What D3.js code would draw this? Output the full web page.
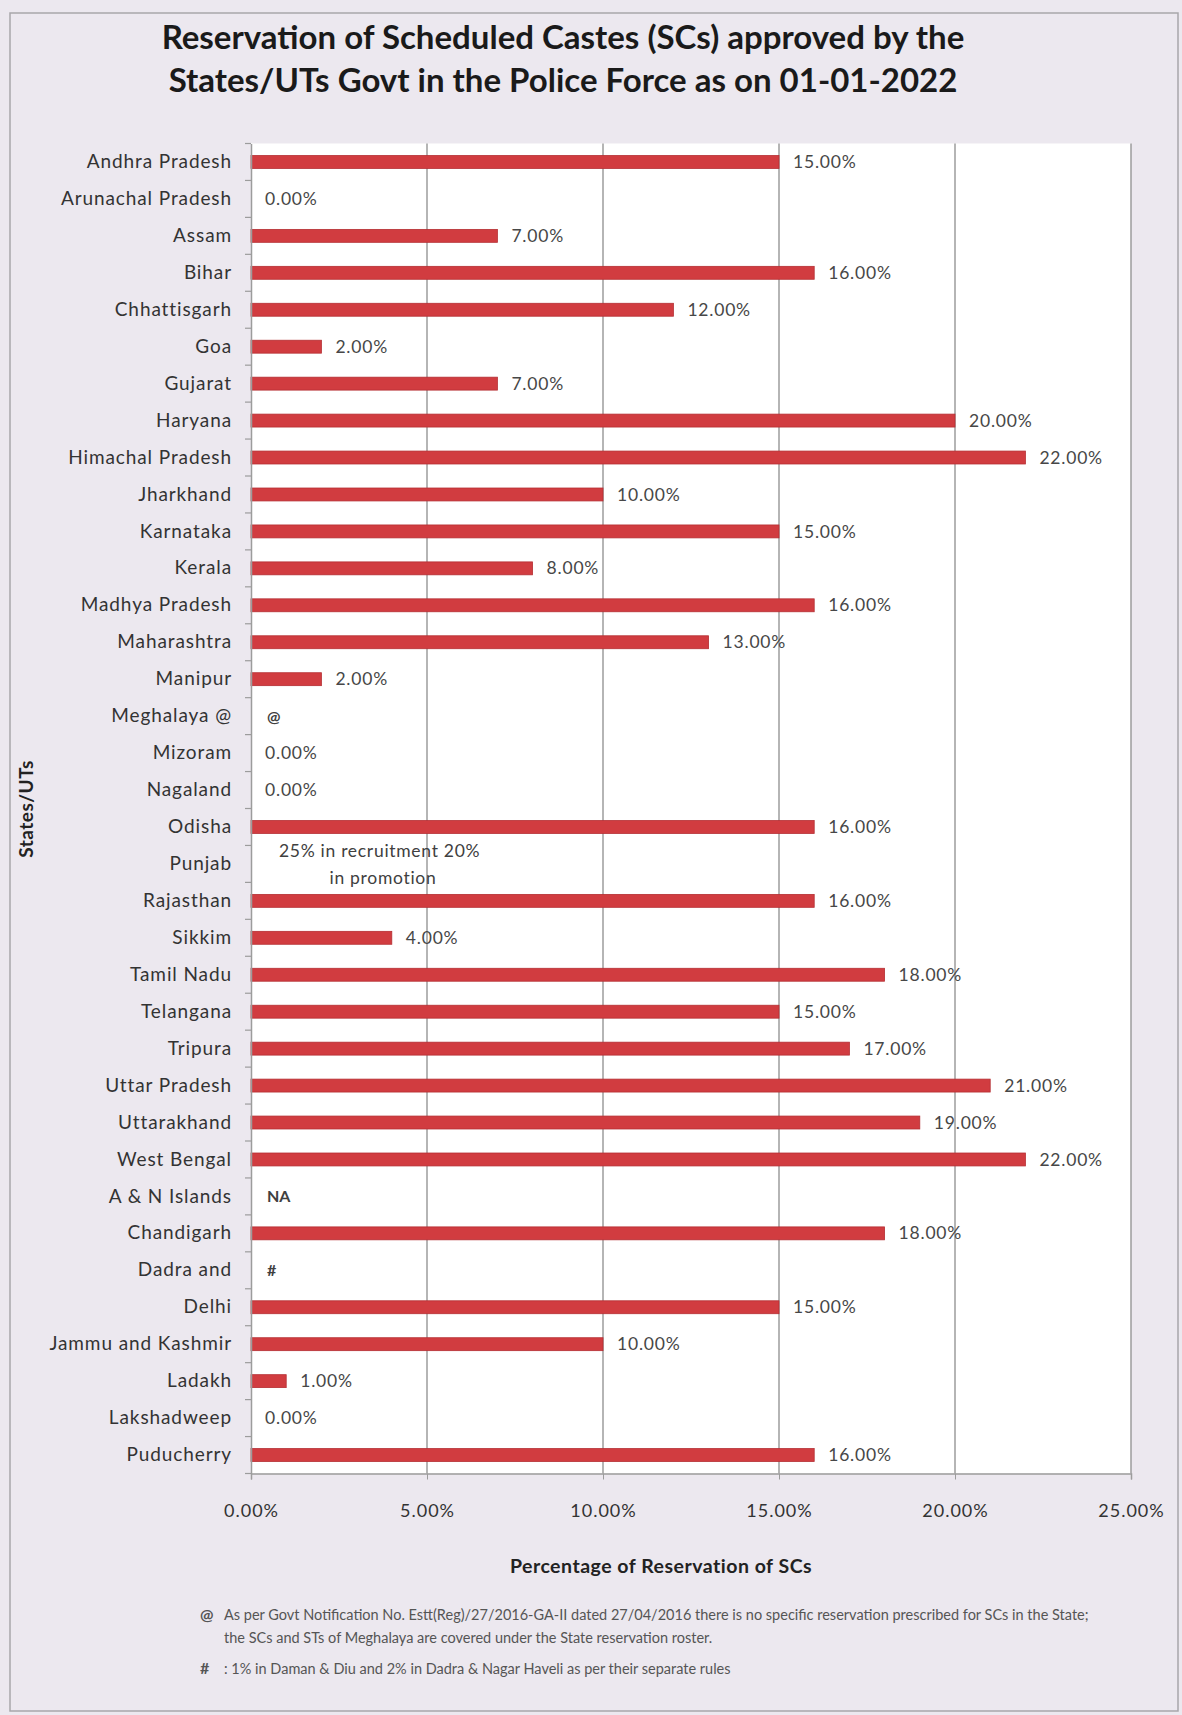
<!DOCTYPE html>
<html>
<head>
<meta charset="utf-8">
<script src="https://cdn.jsdelivr.net/npm/d3@7"></script>
<style>
  html, body { margin: 0; padding: 0; background: #ECE8EF; }
  svg { display: block; }
</style>
</head>
<body>
<svg id="chart" width="1182" height="1715"></svg>
<script>
// ---- data ----
const categories = ["Andhra Pradesh","Arunachal Pradesh","Assam","Bihar","Chhattisgarh","Goa","Gujarat","Haryana","Himachal Pradesh","Jharkhand","Karnataka","Kerala","Madhya Pradesh","Maharashtra","Manipur","Meghalaya @","Mizoram","Nagaland","Odisha","Punjab","Rajasthan","Sikkim","Tamil Nadu","Telangana","Tripura","Uttar Pradesh","Uttarakhand","West Bengal","A & N Islands","Chandigarh","Dadra and","Delhi","Jammu and Kashmir","Ladakh","Lakshadweep","Puducherry"];
const values = [15,0,7,16,12,2,7,20,22,10,15,8,16,13,2,null,0,0,16,null,16,4,18,15,17,21,19,22,null,18,null,15,10,1,0,16];
const textLabels = {"Meghalaya @":"@","A & N Islands":"NA","Dadra and":"#"};
const punjabNote = ["25% in recruitment 20%","in promotion"];
const xTicks = [0,5,10,15,20,25];
const titleLines = ["Reservation of Scheduled Castes (SCs) approved by the","States/UTs Govt in the Police Force as on 01-01-2022"];
const xTitle = "Percentage of Reservation of SCs";
const yTitle = "States/UTs";
const footnotes = [
  {sym:"@", lines:["As per Govt Notification No. Estt(Reg)/27/2016-GA-II dated 27/04/2016 there is no specific reservation prescribed for SCs in the State;","the SCs and STs of Meghalaya are covered under the State reservation roster."]},
  {sym:"#", lines:[": 1% in Daman & Diu and 2% in Dadra & Nagar Haveli as per their separate rules"]}
];

// ---- layout ----
const svg = d3.select("#chart");
const W = 1182, H = 1715;
const m = {left:251, right:1131, top:143.5, bottom:1473.5};
const font = "Lato, 'Open Sans', sans-serif";

svg.append("rect").attr("width",W).attr("height",H).attr("fill","#ECE8EF");
svg.append("rect").attr("x",10).attr("y",13).attr("width",1168).attr("height",1698)
  .attr("fill","none").attr("stroke","#a8a6ab").attr("stroke-width",1.5);

const x = d3.scaleLinear().domain([0,25]).range([m.left,m.right]);
const y = d3.scaleBand().domain(categories).range([m.top,m.bottom]).paddingInner(0.65).paddingOuter(0.325);

// plot area
svg.append("rect").attr("x",m.left).attr("y",m.top).attr("width",m.right-m.left).attr("height",m.bottom-m.top)
  .attr("fill","#ffffff");

// gridlines
svg.append("g").selectAll("line").data(xTicks.slice(1)).join("line")
  .attr("x1",d=>x(d)).attr("x2",d=>x(d)).attr("y1",m.top).attr("y2",m.bottom)
  .attr("stroke","#9c9c9c").attr("stroke-width",1.5);

// bars
const barData = categories.map((c,i)=>({c, v: values[i]}));
svg.append("g").selectAll("rect").data(barData.filter(d=>d.v!==null && d.v>0)).join("rect")
  .attr("x",x(0)).attr("y",d=>y(d.c)).attr("width",d=>x(d.v)-x(0)).attr("height",y.bandwidth())
  .attr("fill","#D13C40").attr("stroke","#B52F33").attr("stroke-width",0.8);

// value labels
svg.append("g").selectAll("text").data(barData.filter(d=>d.v!==null)).join("text")
  .attr("x",d=>x(d.v)+14).attr("y",d=>y(d.c)+y.bandwidth()/2).attr("dy","0.35em")
  .attr("font-family",font).attr("font-size",17.5).attr("letter-spacing",0.8).attr("fill","#474747")
  .text(d=>d.v.toFixed(2)+"%");

// text labels for non-numeric
svg.append("g").selectAll("text").data(Object.entries(textLabels)).join("text")
  .attr("x",x(0)+16).attr("y",d=>y(d[0])+y.bandwidth()/2).attr("dy","0.35em")
  .attr("font-family",font).attr("font-size",16).attr("font-weight","bold").attr("fill","#404040")
  .text(d=>d[1]);

// Punjab note
const py = y("Punjab")+y.bandwidth()/2;
svg.append("text").attr("x",x(0)+28).attr("y",py-13).attr("dy","0.35em")
  .attr("font-family",font).attr("font-size",17.5).attr("letter-spacing",0.7).attr("fill","#404040").text(punjabNote[0]);
svg.append("text").attr("x",x(0)+132).attr("y",py+14).attr("dy","0.35em").attr("text-anchor","middle")
  .attr("font-family",font).attr("font-size",17.5).attr("letter-spacing",0.7).attr("fill","#404040").text(punjabNote[1]);

// y axis
const yAxis = svg.append("g").attr("transform",`translate(${m.left},0)`)
  .call(d3.axisLeft(y).tickSize(0).tickPadding(19));
yAxis.select(".domain").attr("stroke","#9c9c9c").attr("stroke-width",1.5);
yAxis.selectAll("text").attr("font-family",font).attr("font-size",19).attr("letter-spacing",0.9).attr("fill","#333");
// category separator ticks
const step = y.step();
svg.append("g").selectAll("line").data(d3.range(categories.length+1)).join("line")
  .attr("x1",m.left-6).attr("x2",m.left).attr("y1",i=>m.top+i*step).attr("y2",i=>m.top+i*step)
  .attr("stroke","#9c9c9c").attr("stroke-width",1.2);

// x axis
const xAxis = svg.append("g").attr("transform",`translate(0,${m.bottom})`)
  .call(d3.axisBottom(x).tickValues(xTicks).tickSize(6).tickPadding(25).tickFormat(d=>d.toFixed(2)+"%"));
xAxis.select(".domain").attr("stroke","#9c9c9c").attr("stroke-width",1.5);
xAxis.selectAll(".tick line").attr("stroke","#9c9c9c");
xAxis.selectAll("text").attr("font-family",font).attr("font-size",18).attr("letter-spacing",1).attr("fill","#333");

// titles
svg.append("g").selectAll("text").data(titleLines).join("text")
  .attr("x",563).attr("y",(d,i)=>49+i*43).attr("text-anchor","middle")
  .attr("font-family",font).attr("font-size",33).attr("font-weight","bold").attr("fill","#1a1a1a")
  .text(d=>d);

svg.append("text").attr("x",661).attr("y",1573).attr("text-anchor","middle")
  .attr("font-family",font).attr("font-size",19.5).attr("letter-spacing",0.5).attr("font-weight","bold").attr("fill","#222").text(xTitle);

svg.append("text").attr("transform","translate(33,809) rotate(-90)").attr("text-anchor","middle")
  .attr("font-family",font).attr("font-size",19).attr("letter-spacing",0.5).attr("font-weight","bold").attr("fill","#222").text(yTitle);

// footnotes
const fn = svg.append("g").attr("font-family",font).attr("fill","#555");
let fy = 1620;
footnotes.forEach(f=>{
  fn.append("text").attr("x",200).attr("y",fy).attr("font-size",16).attr("font-weight","bold").text(f.sym);
  f.lines.forEach((l,j)=>{
    fn.append("text").attr("x",224).attr("y",fy+j*23).attr("font-size",14.5).text(l);
  });
  fy += f.lines.length*23 + 8;
});
</script>
</body>
</html>
